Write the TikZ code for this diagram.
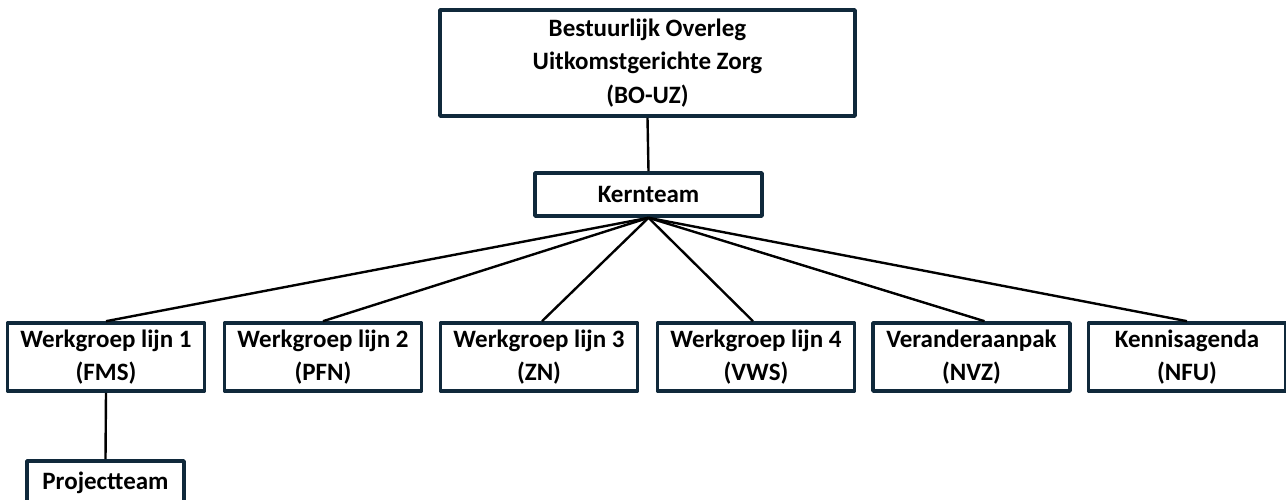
\documentclass[tikz,border=0pt]{standalone}
\usepackage{fontspec}
\setmainfont{Carlito}
\definecolor{boxborder}{HTML}{10293B}
\begin{document}
\begin{tikzpicture}[x=1pt,y=-1pt,
  box/.style={draw=boxborder,line width=3.6pt,fill=white,inner sep=0pt,align=center,
    font=\fontsize{25}{33.5}\selectfont\bfseries,line join=round},
  conn/.style={draw=black,line width=2.4pt}]
\useasboundingbox (0,0) rectangle (1286,500);
\node[box,minimum width=415pt,minimum height=106pt] (bo) at (647.5,63) {Bestuurlijk Overleg\\Uitkomstgerichte Zorg\\(BO-UZ)};
\node[box,minimum width=227pt,minimum height=43pt] (kern) at (648.5,194.5) {Kernteam};
\node[box,minimum width=197pt,minimum height=68pt] (w1) at (106,357) {Werkgroep lijn 1\\(FMS)};
\node[box,minimum width=197pt,minimum height=68pt] (w2) at (323,357) {Werkgroep lijn 2\\(PFN)};
\node[box,minimum width=197pt,minimum height=68pt] (w3) at (539,357) {Werkgroep lijn 3\\(ZN)};
\node[box,minimum width=197pt,minimum height=68pt] (w4) at (756,357) {Werkgroep lijn 4\\(VWS)};
\node[box,minimum width=197pt,minimum height=68pt] (w5) at (971.5,357) {Veranderaanpak\\(NVZ)};
\node[box,minimum width=197pt,minimum height=68pt] (w6) at (1187,357) {Kennisagenda\\(NFU)};
\node[box,minimum width=157pt,minimum height=44pt] (pt) at (105.5,483) {Projectteam};
\draw[conn] (bo.south) -- (kern.north);
\draw[conn] (kern.south) -- (w1.north);
\draw[conn] (kern.south) -- (w2.north);
\draw[conn] (kern.south) -- ([xshift=3pt]w3.north);
\draw[conn] (kern.south) -- ([xshift=-3pt]w4.north);
\draw[conn] (kern.south) -- ([xshift=13pt]w5.north);
\draw[conn] (kern.south) -- (w6.north);
\draw[conn] (w1.south) -- (pt.north);
\end{tikzpicture}
\end{document}
